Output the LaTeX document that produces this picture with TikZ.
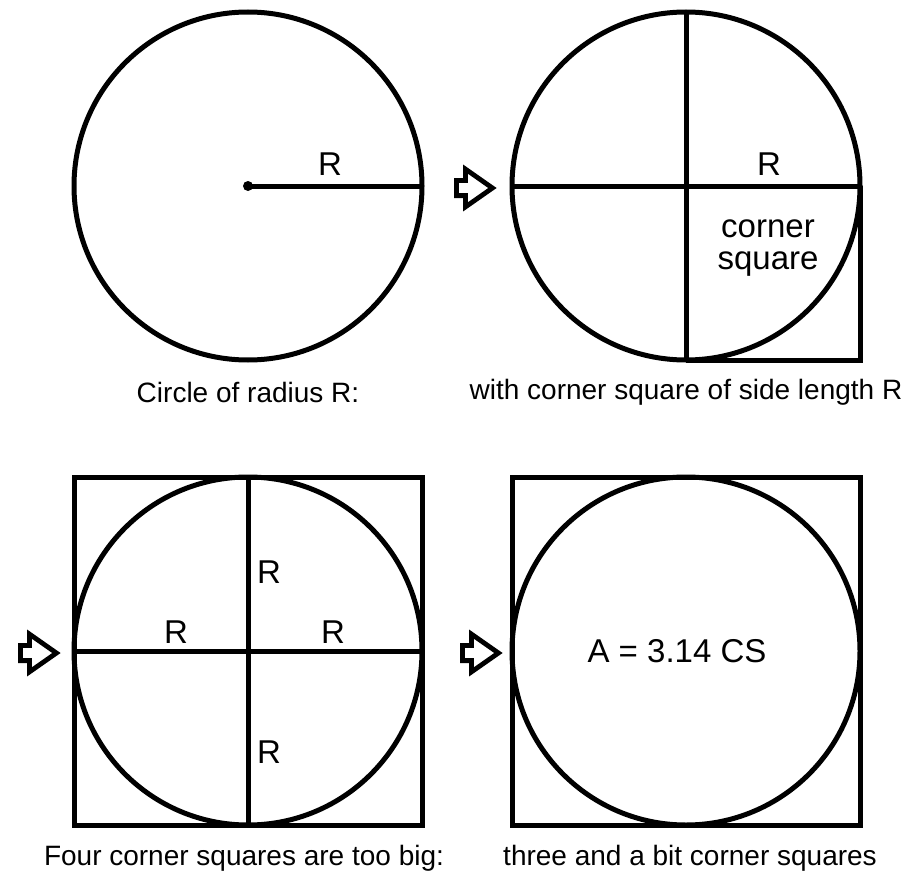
\documentclass[tikz,border=0pt]{standalone}
\usepackage{fontspec}
\setmainfont{Liberation Sans}
\usetikzlibrary{shapes.arrows}

\begin{document}
\begin{tikzpicture}[
  x=0.5pt, y=-0.5pt,
  line width=2.5pt,
  lbl/.style={font=\fontsize{16.5}{17}\selectfont, inner sep=0pt, align=center},
  caption/.style={font=\fontsize{14}{17}\selectfont, inner sep=0pt},
  hollow/.style={single arrow, draw, line width=2.4pt, line join=miter,
    inner sep=2.6pt, minimum height=18pt, single arrow head extend=5.6pt,
    single arrow tip angle=70}
]
\useasboundingbox (0,0) rectangle (910,883);

% circle of radius R
\coordinate (c1) at (248,186);
\draw (c1) circle[radius=174];
\fill (c1) circle[radius=5];
\draw (c1) -- (422,186);
\node[lbl] (r1) at (330,164) {R};
\node[caption] (cap1) at (248,392) {Circle of radius R:};

\node[hollow] (a1) at (469,188) {};

% with corner square
\coordinate (c2) at (686,186);
\draw (c2) circle[radius=174];
\draw (512,186) -- (860,186);
\draw (686,12) -- (686,360);
\draw (860,186) -- (860,360) -- (686,360);
\node[lbl] (r2) at (769,164) {R};
\node[lbl] (cs) at (768,248) {corner\\[-1pt]square};
\node[caption] (cap2) at (686,392) {with corner square of side length R};

\node[hollow] (a2) at (33,653) {};

% four corner squares
\coordinate (c3) at (248,651);
\draw (74,477) rectangle (422,825);
\draw (c3) circle[radius=174];
\draw (74,651) -- (422,651);
\draw (248,477) -- (248,825);
\node[lbl] (r3) at (269,572) {R};
\node[lbl] (r4) at (176,632) {R};
\node[lbl] (r5) at (333,632) {R};
\node[lbl] (r6) at (269,752) {R};
\node[caption] (cap3) at (244,858) {Four corner squares are too big:};

\node[hollow] (a3) at (475,653) {};

% three and a bit
\coordinate (c4) at (686,651);
\draw (512,477) rectangle (860,825);
\draw (c4) circle[radius=174];
\node[lbl] (area) at (677,651) {A = 3.14 CS};
\node[caption] (cap4) at (690,858) {three and a bit corner squares};
\end{tikzpicture}
\end{document}
